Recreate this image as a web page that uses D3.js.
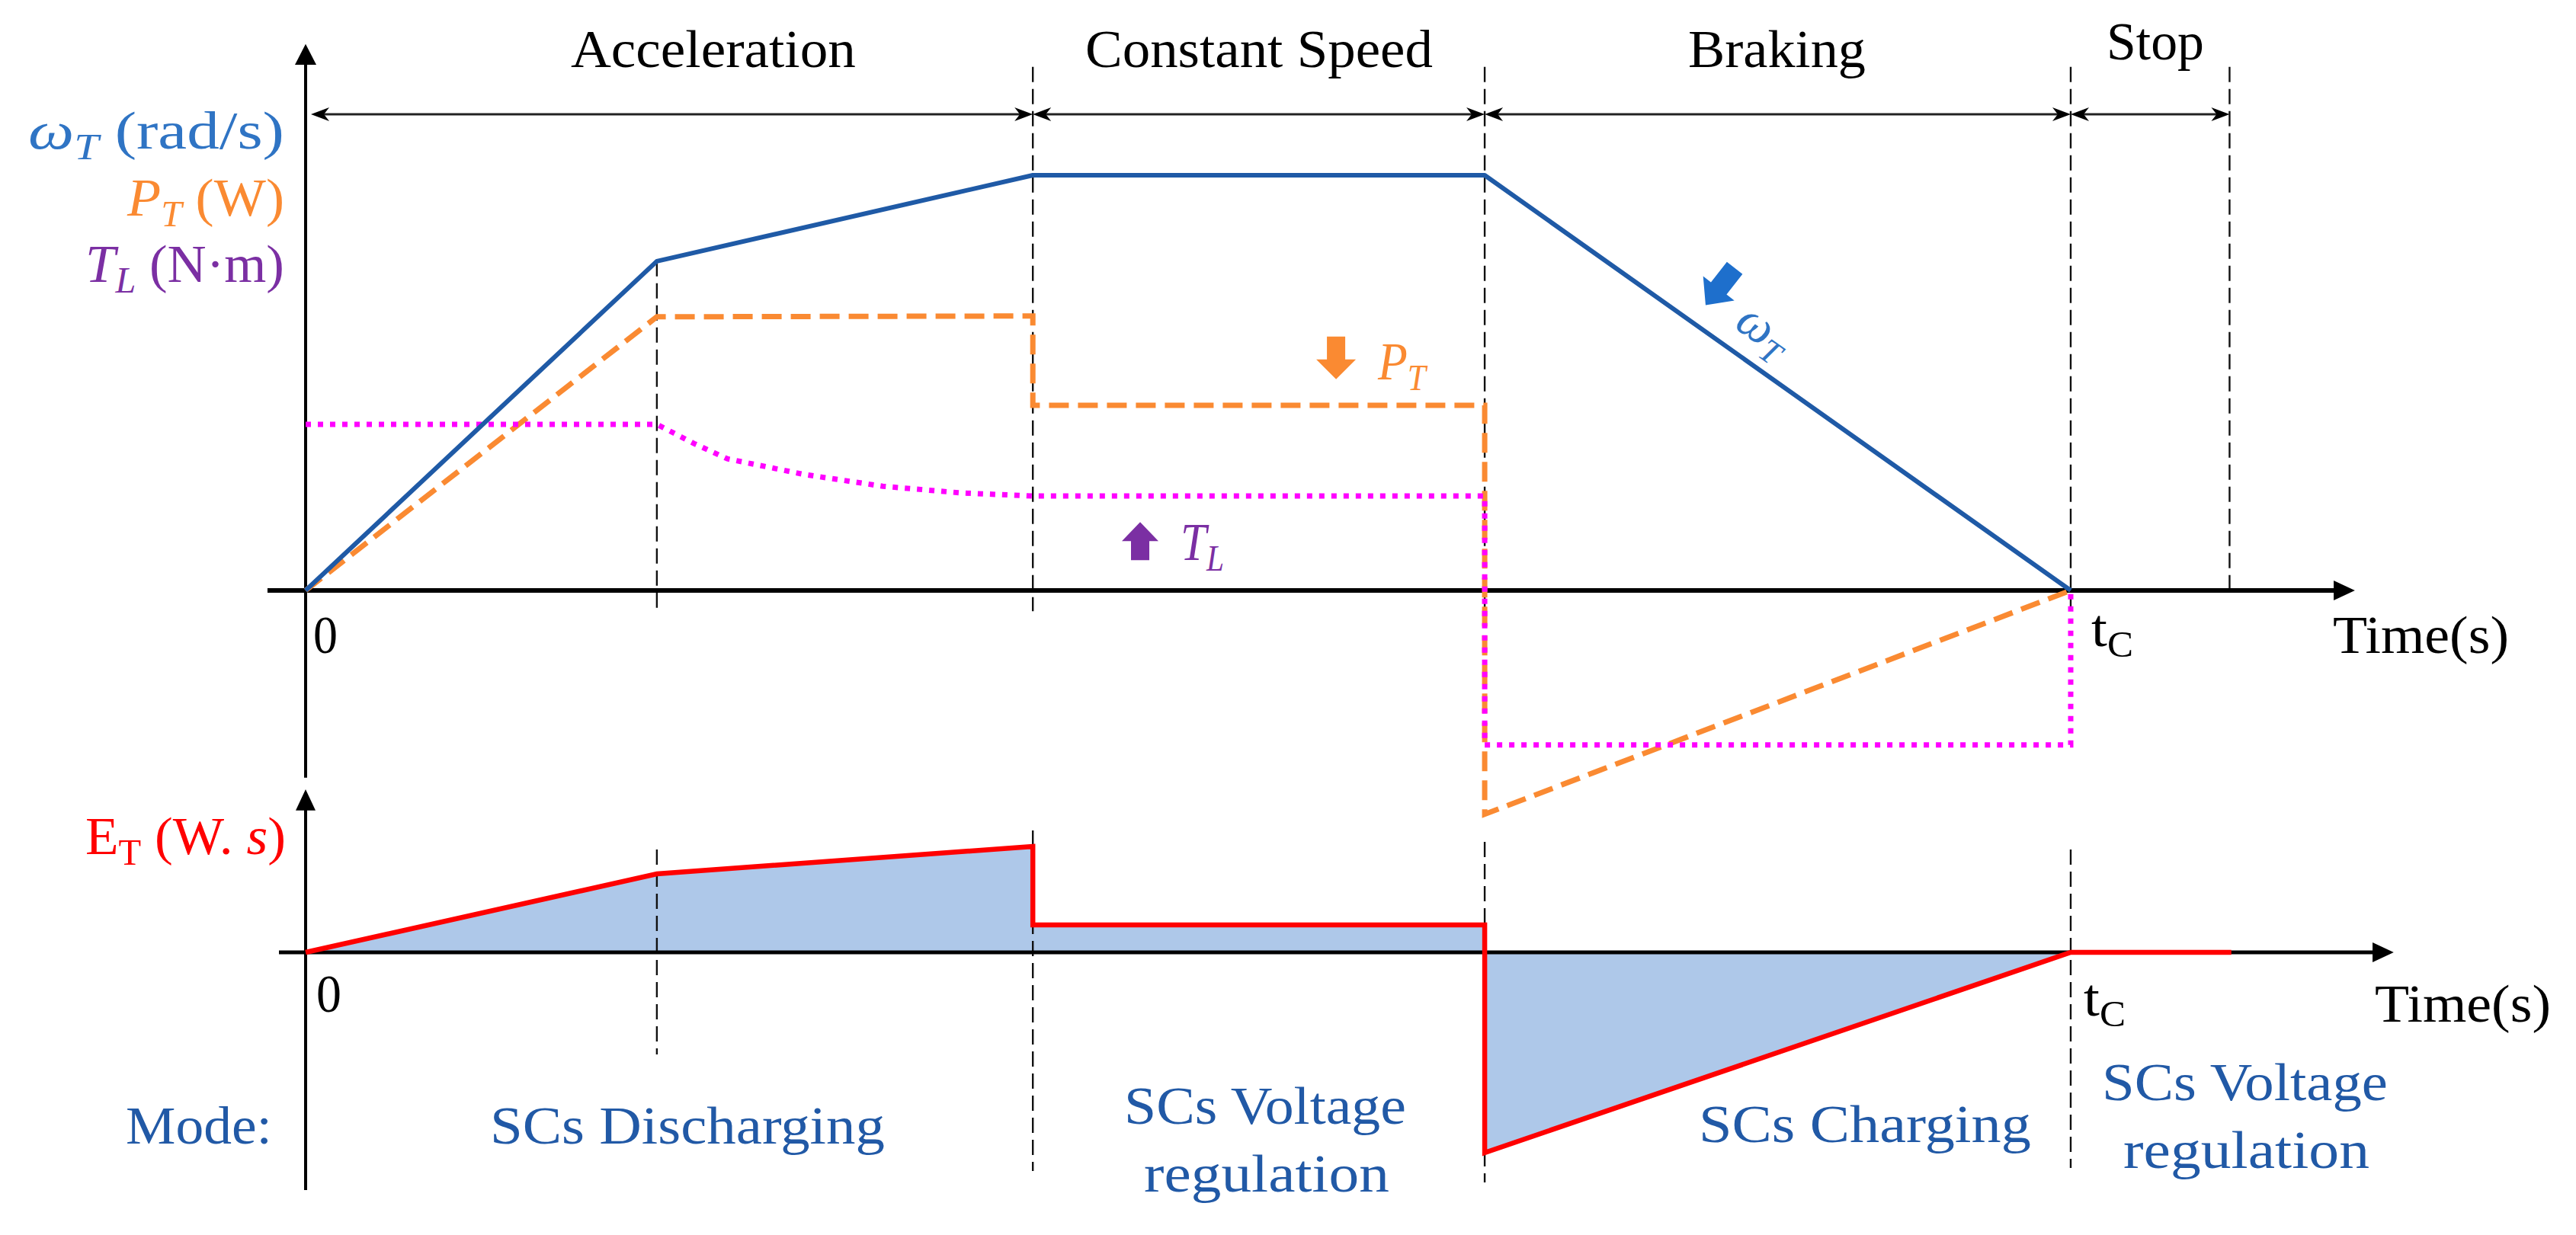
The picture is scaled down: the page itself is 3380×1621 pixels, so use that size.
<!DOCTYPE html>
<html><head><meta charset="utf-8">
<script src="https://cdn.jsdelivr.net/npm/d3@7"></script>
<style>body{margin:0;background:#fff}svg{display:block}</style>
</head><body>
<svg id="c" width="3380" height="1621"></svg>
<script>
// ---------------- DATA (arbitrary units) ----------------
const phaseNames   = ["Acceleration", "Constant Speed", "Braking", "Stop"];
const phaseBounds  = [0, 4.12, 6.68, 10, 10.9];          // time of each phase boundary (tc = 10)
const omegaTime    = [0, 1.99, 4.12, 6.68, 10];
const omegaValue   = [0, 0.793, 1.0, 1.0, 0];
const powerTime    = [0, 1.99, 4.12, 4.12, 6.68, 6.68, 10];
const powerValue   = [0, 0.659, 0.661, 0.446, 0.446, -0.539, 0];
const torqueTime   = [0, 1.99, 2.2, 2.39, 2.83, 3.27, 3.71, 4.12, 6.68, 6.68, 10, 10];
const torqueValue  = [0.40, 0.40, 0.354, 0.317, 0.279, 0.251, 0.235, 0.2275, 0.2275, -0.372, -0.372, 0];
const energyTime   = [0, 1.99, 4.12, 4.12, 6.68, 6.68, 10, 10.91];
const energyValue  = [0, 0.741, 1.0, 0.259, 0.259, -1.892, 0, 0];
const modeLabels   = [["SCs Discharging"], ["SCs Voltage", "regulation"], ["SCs Charging"], ["SCs Voltage", "regulation"]];
const axisTickLabels = ["0", "t", "Time(s)"];
// guide lines: time, upper-panel extent (ω units), lower-panel extent (E units)
const guideTime    = [1.99, 4.12, 6.68, 10, 10.9];
const guideUpper   = [[0.793, -0.048], [1.261, -0.05], [1.261, -0.05], [1.261, -0.045], [1.261, -0.005]];
const guideLower   = [[0.971, -0.964], [1.151, -2.065], [1.043, -2.173], [0.971, -2.036], null];

// ---------------- LAYOUT ----------------
const W = 3380, H = 1621;
const FONT = "'Liberation Serif','Times New Roman',serif";
const C = {
  omega: "#1F5AA6", omegaText: "#2F74C4", omegaIcon: "#1E6FCC",
  power: "#FA8A32", torque: "#FF00FF", torqueText: "#7B2FA3",
  energy: "#FF0000", fill: "#AEC8E9", mode: "#2159A6"
};
const x  = d3.scaleLinear().domain([0, 10]).range([401, 2717]);
const yU = d3.scaleLinear().domain([0, 1]).range([775, 230]);
const yL = d3.scaleLinear().domain([0, 1]).range([1250, 1111]);

const svg = d3.select("#c");
svg.append("rect").attr("width", W).attr("height", H).attr("fill", "#fff");

function label(g, spec) {
  const size = spec.size || 70;
  const t = g.append("text").attr("font-family", FONT).attr("font-size", size)
    .attr("fill", spec.fill || "#000");
  let prevSub = false;
  spec.parts.forEach(p => {
    const ts = t.append("tspan").text(p.s);
    if (p.i) ts.attr("font-style", "italic");
    if (p.fill) ts.attr("fill", p.fill);
    if (p.sub) { ts.attr("font-size", size * 0.68).attr("dy", size * 0.2); prevSub = true; }
    else if (prevSub) { ts.attr("dy", -size * 0.2); prevSub = false; }
  });
  const bb = t.node().getBBox();
  const sx = spec.x1 != null ? (spec.x1 - spec.x0) / bb.width : 1;
  t.attr("transform", `translate(${spec.x0 - bb.x * sx},${spec.y}) scale(${sx},1)`);
  return t;
}

function blockArrow(g, cx, cy, rot, L, w1, w2, h, fill) {
  const p = `M${-w1},${-L/2} L${w1},${-L/2} L${w1},${L/2-h} L${w2},${L/2-h} L0,${L/2} L${-w2},${L/2-h} L${-w1},${L/2-h} Z`;
  g.append("path").attr("d", p).attr("fill", fill)
    .attr("transform", `translate(${cx},${cy}) rotate(${rot})`);
}

function head(g, tipX, tipY, dir) { // horizontal stealth arrow head; dir=+1 points right
  const L = 24, hw = 9, n = 7;
  g.append("path").attr("fill", "#000")
    .attr("d", `M${tipX},${tipY} L${tipX - dir*L},${tipY - hw} L${tipX - dir*(L-n)},${tipY} L${tipX - dir*L},${tipY + hw} Z`);
}

const gFill = svg.append("g"), gGuide = svg.append("g"), gAxis = svg.append("g"),
      gLine = svg.append("g"), gText = svg.append("g");

// ---------------- lower panel fill ----------------
const energy = energyTime.map((t, i) => [t, energyValue[i]]);
gFill.append("path").datum(energy)
  .attr("d", d3.area().x(d => x(d[0])).y0(yL(0)).y1(d => yL(d[1])))
  .attr("fill", C.fill);

// ---------------- guide lines ----------------
guideTime.forEach((t, i) => {
  const u = guideUpper[i];
  gGuide.append("line").attr("x1", x(t)).attr("x2", x(t)).attr("y1", yU(u[0])).attr("y2", yU(u[1]))
    .attr("stroke", "#111").attr("stroke-width", 2.4).attr("stroke-dasharray", "20,9");
  const l = guideLower[i];
  if (l) gGuide.append("line").attr("x1", x(t)).attr("x2", x(t)).attr("y1", yL(l[0])).attr("y2", yL(l[1]))
    .attr("stroke", "#111").attr("stroke-width", 2.4).attr("stroke-dasharray", "20,9");
});

// ---------------- axes ----------------
// upper
gAxis.append("line").attr("x1", x(0)).attr("x2", x(0)).attr("y1", yU(1.27)).attr("y2", yU(-0.451))
  .attr("stroke", "#000").attr("stroke-width", 4);
gAxis.append("path").attr("fill", "#000")
  .attr("d", `M${x(0)},${yU(1.316)} L${x(0)-14},${yU(1.266)} L${x(0)+14},${yU(1.266)} Z`);
gAxis.append("line").attr("x1", x(-0.216)).attr("x2", x(11.5)).attr("y1", yU(0)).attr("y2", yU(0))
  .attr("stroke", "#000").attr("stroke-width", 6);
gAxis.append("path").attr("fill", "#000")
  .attr("d", `M${x(11.61)},${yU(0)} L${x(11.49)},${yU(0)-13} L${x(11.49)},${yU(0)+13} Z`);
// lower
gAxis.append("line").attr("x1", x(0)).attr("x2", x(0)).attr("y1", yL(1.45)).attr("y2", yL(-2.245))
  .attr("stroke", "#000").attr("stroke-width", 4);
gAxis.append("path").attr("fill", "#000")
  .attr("d", `M${x(0)},${yL(1.54)} L${x(0)-13},${yL(1.34)} L${x(0)+13},${yL(1.34)} Z`);
gAxis.append("line").attr("x1", x(-0.151)).attr("x2", x(11.75)).attr("y1", yL(0)).attr("y2", yL(0))
  .attr("stroke", "#000").attr("stroke-width", 5);
gAxis.append("path").attr("fill", "#000")
  .attr("d", `M${x(11.83)},${yL(0)} L${x(11.71)},${yL(0)-13} L${x(11.71)},${yL(0)+13} Z`);

// phase arrows
const yPhase = yU(1.147);
for (let i = 0; i < phaseNames.length; i++) {
  const a = x(phaseBounds[i]) + (i === 0 ? 7 : 0), b = x(phaseBounds[i + 1]);
  gAxis.append("line").attr("x1", a + 10).attr("x2", b - 10).attr("y1", yPhase).attr("y2", yPhase)
    .attr("stroke", "#222").attr("stroke-width", 3);
  head(gAxis, a, yPhase, -1);
  head(gAxis, b, yPhase, +1);
}

// ---------------- curves ----------------
const line2 = (ys) => d3.line().x(d => x(d[0])).y(d => ys(d[1]));
const power  = powerTime.map((t, i) => [t, powerValue[i]]);
const torque = torqueTime.map((t, i) => [t, torqueValue[i]]);
const omega  = omegaTime.map((t, i) => [t, omegaValue[i]]);

gLine.append("path").datum(power).attr("d", line2(yU)).attr("fill", "none")
  .attr("stroke", C.power).attr("stroke-width", 7).attr("stroke-dasharray", "26,12");
gLine.append("path").datum(torque).attr("d", line2(yU)).attr("fill", "none")
  .attr("stroke", C.torque).attr("stroke-width", 7).attr("stroke-dasharray", "7,9");
gLine.append("path").datum(omega).attr("d", line2(yU)).attr("fill", "none")
  .attr("stroke", C.omega).attr("stroke-width", 6).attr("stroke-linejoin", "round");
gLine.append("path").datum(energy).attr("d", line2(yL)).attr("fill", "none")
  .attr("stroke", C.energy).attr("stroke-width", 6.5).attr("stroke-linejoin", "miter");

// annotation icons (positions in data units)
blockArrow(gLine, x(5.838), yU(0.56), 0, 56, 12, 26, 26, C.power);
blockArrow(gLine, x(4.728), yU(0.119), 180, 50, 12, 24, 25, C.torqueText);
blockArrow(gLine, x(8.014), yU(0.732), 38, 62, 13, 26, 28, C.omegaIcon);

// ---------------- texts ----------------
const phaseTextPos = [[749, 1123, 88], [1424, 1880, 88], [2215, 2448, 88], [2764, 2892, 78]];
phaseNames.forEach((n, i) => {
  const p = phaseTextPos[i];
  label(gText, {x0: p[0], x1: p[1], y: p[2], parts: [{s: n}]});
});

label(gText, {x0: 37, x1: 373, y: 195, fill: C.omegaText,
  parts: [{s: "ω", i: true}, {s: "T", i: true, sub: true}, {s: " (rad/s)"}]});
label(gText, {x0: 166, x1: 373, y: 283, fill: C.power,
  parts: [{s: "P", i: true}, {s: "T", i: true, sub: true}, {s: " (W)"}]});
label(gText, {x0: 112, x1: 373, y: 370, fill: C.torqueText,
  parts: [{s: "T", i: true}, {s: "L", i: true, sub: true}, {s: " (N·m)"}]});
label(gText, {x0: 112, x1: 375, y: 1121, fill: C.energy,
  parts: [{s: "E"}, {s: "T", sub: true}, {s: " (W. "}, {s: "s", i: true}, {s: ")"}]});

// axis labels
label(gText, {x0: 411, x1: 443, y: 857, parts: [{s: axisTickLabels[0]}]});
label(gText, {x0: 2744, x1: 2799, y: 848, parts: [{s: axisTickLabels[1]}, {s: "C", sub: true}]});
label(gText, {x0: 3061, x1: 3292, y: 857, parts: [{s: axisTickLabels[2]}]});
label(gText, {x0: 415, x1: 448, y: 1328, parts: [{s: axisTickLabels[0]}]});
label(gText, {x0: 2734, x1: 2789, y: 1333, parts: [{s: axisTickLabels[1]}, {s: "C", sub: true}]});
label(gText, {x0: 3116, x1: 3347, y: 1341, parts: [{s: axisTickLabels[2]}]});

// curve annotations
label(gText, {x0: 1807, x1: 1874, y: 498, fill: C.power,
  parts: [{s: "P", i: true}, {s: "T", i: true, sub: true}]});
label(gText, {x0: 1549, x1: 1606, y: 735, fill: C.torqueText,
  parts: [{s: "T", i: true}, {s: "L", i: true, sub: true}]});
const gw = gText.append("g").attr("transform", `translate(${x(8.247)},${yU(0.618)}) rotate(35.3)`);
const tw = gw.append("text").attr("font-family", FONT).attr("font-size", 66).attr("fill", C.omegaText)
  .attr("text-anchor", "middle").attr("y", 14);
tw.append("tspan").attr("font-style", "italic").text("ω");
tw.append("tspan").attr("font-style", "italic").attr("font-size", 44).attr("dy", 13).text("T");

// mode labels
label(gText, {x0: 165, x1: 357, y: 1501, fill: C.mode, parts: [{s: "Mode:"}]});
const modePos = [
  [[643, 1161, 1501]],
  [[1475, 1845, 1475], [1501, 1823, 1564]],
  [[2229, 2665, 1499]],
  [[2758, 3133, 1444], [2786, 3109, 1533]]
];
modeLabels.forEach((lines, i) => lines.forEach((s, j) => {
  const p = modePos[i][j];
  label(gText, {x0: p[0], x1: p[1], y: p[2], fill: C.mode, parts: [{s}]});
}));
</script>
</body></html>
